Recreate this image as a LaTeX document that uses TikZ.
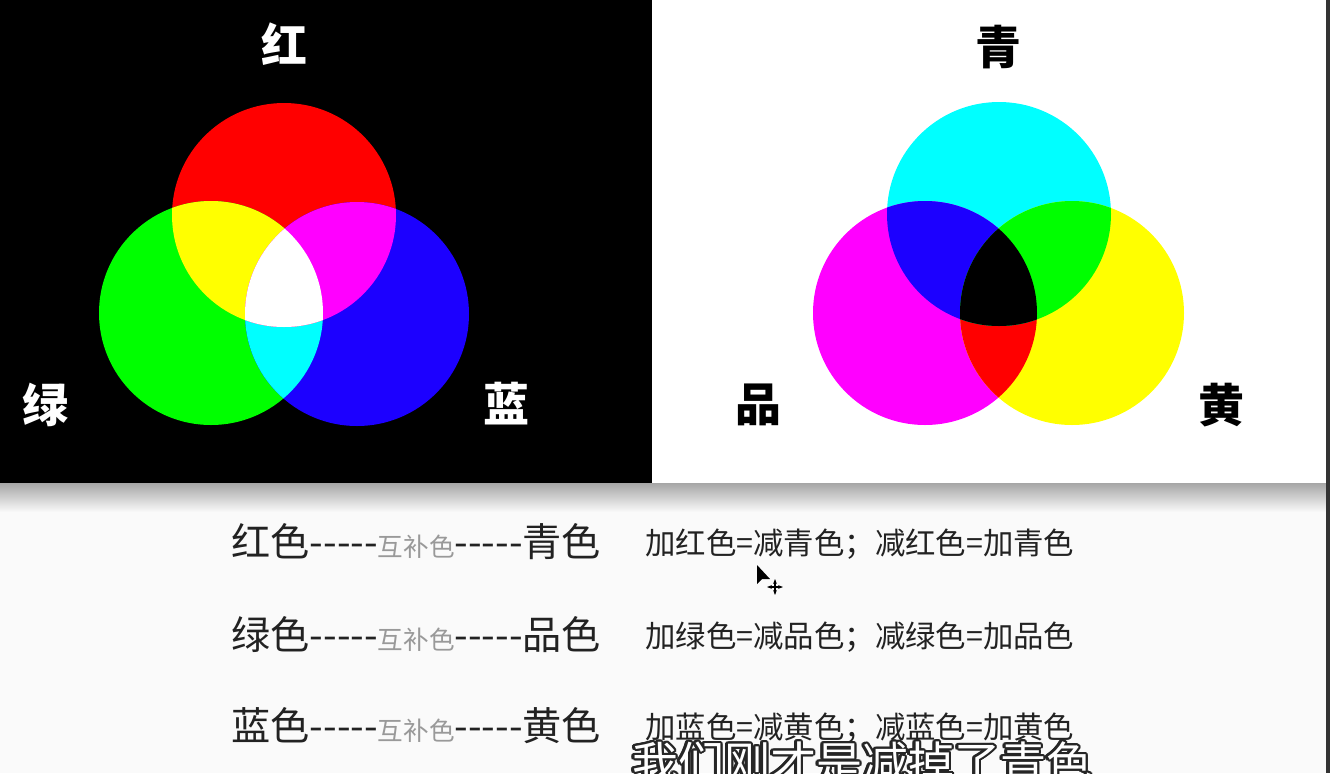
\documentclass[tikz,border=0pt]{standalone}
\usepackage{fontspec}
\usepackage{tikz}
\usetikzlibrary{arrows.meta,positioning}
\usepackage{contour}
\newfontfamily\cjk{Noto Sans CJK SC}
\definecolor{LRed}{RGB}{255,0,0}
\definecolor{LGreen}{RGB}{0,255,0}
\definecolor{LBlue}{RGB}{28,0,255}
\definecolor{LCyan}{RGB}{0,255,255}
\definecolor{LMagenta}{RGB}{255,0,255}
\definecolor{LYellow}{RGB}{255,255,0}
\definecolor{Ink}{HTML}{222222}
\definecolor{Paper}{HTML}{FAFAFA}
\contourlength{1.1pt}
\newcommand{\Disc}[2]{\fill[#1] #2 circle[radius=112];}
\newcommand{\DiscClip}[1]{\clip #1 circle[radius=112];}

\begin{document}
\begin{tikzpicture}[x=0.5pt,y=-0.5pt,
  biglabel/.style={font=\cjk\bfseries\fontsize{23}{25}\selectfont,inner sep=0pt},
  pairtext/.style={anchor=west,inner sep=0pt,text=Ink,font=\cjk\fontsize{19.6}{22}\selectfont},
  ruletext/.style={anchor=west,inner sep=0pt,text=Ink,font=\cjk\fontsize{15.2}{17}\selectfont}]
\useasboundingbox (0,0) rectangle (1330,773);
% backgrounds
\fill[Paper] (0,0) rectangle (1330,773);
\fill[black] (0,0) rectangle (652,483);
\fill[white] (652,0) rectangle (1326,483);
\shade[top color=black!35,bottom color=Paper] (0,483) rectangle (1326,512);
\fill[black!80] (1326,0) rectangle (1330,773);
% additive mixing
\def\cR{(284,215)}\def\cG{(211,313)}\def\cB{(357,314)}
\Disc{LRed}{\cR}
\Disc{LGreen}{\cG}
\Disc{LBlue}{\cB}
\begin{scope}\DiscClip{\cG}\Disc{LCyan}{\cB}\end{scope}
\begin{scope}\DiscClip{\cR}
  \Disc{LYellow}{\cG}
  \Disc{LMagenta}{\cB}
  \DiscClip{\cG}\Disc{white}{\cB}
\end{scope}
% subtractive mixing
\def\cC{(999,214)}\def\cM{(925,313)}\def\cY{(1072,313)}
\Disc{LCyan}{\cC}
\Disc{LMagenta}{\cM}
\Disc{LYellow}{\cY}
\begin{scope}\DiscClip{\cM}\Disc{LRed}{\cY}\end{scope}
\begin{scope}\DiscClip{\cC}
  \Disc{LBlue}{\cM}
  \Disc{LGreen}{\cY}
  \DiscClip{\cM}\Disc{black}{\cY}
\end{scope}
% labels
\foreach \nm/\x/\y/\t/\c in {lR/284/44/红/white,lG/45/405/绿/white,lB/506/404/蓝/white,
    lC/998/47/青/black,lM/758/405/品/black,lY/1221/405/黄/black}
  \node[biglabel,text=\c] (\nm) at (\x,\y) {\t};
% complementary pairs
\foreach \n/\a/\b/\y in {1/红/青/542,2/绿/品/635,3/蓝/黄/726} {
  \node[pairtext] (pair\n) at (231,\y) {{\a}色-----{\color{black!40}\fontsize{12.8}{14}\selectfont 互补色}-----{\b}色};
  \node[ruletext] (rule\n) at (645,\y+2) {加{\a}色=减{\b}色；减{\a}色=加{\b}色};
}
% cursor
\fill[black] (757,565) -- (757,584) -- (762,579) -- (770,579) -- cycle;
\draw[black,line width=0.7pt,{Stealth[length=2.5pt]}-{Stealth[length=2.5pt]}] (767,587) -- (783,587);
\draw[black,line width=0.7pt,{Stealth[length=2.5pt]}-{Stealth[length=2.5pt]}] (775,579) -- (775,595);
% subtitle
\node[inner sep=0pt,font=\cjk\fontsize{23}{25}\selectfont,text=white] (sub) at (862,764) {\contour{black!85}{我们刚才是减掉了青色}};
\end{tikzpicture}
\end{document}
